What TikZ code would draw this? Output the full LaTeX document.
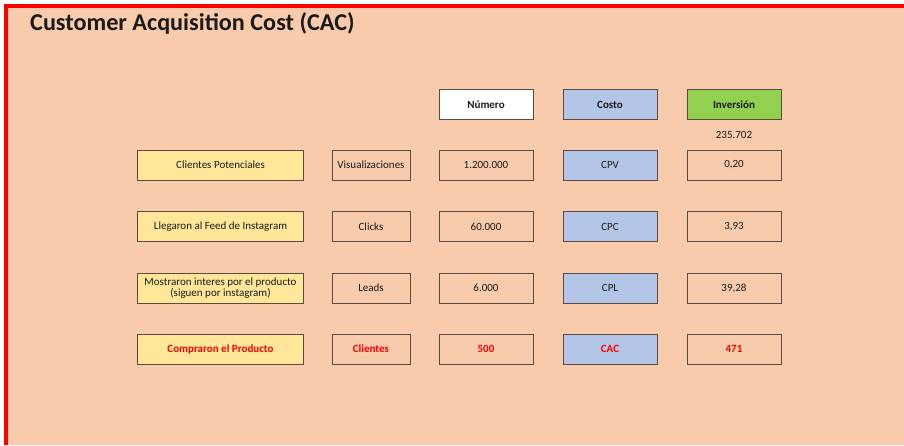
\documentclass[tikz,border=0pt]{standalone}
\usepackage{fontspec}
\setmainfont{Carlito}
\definecolor{sheet}{HTML}{F8CBAD}
\definecolor{labelfill}{HTML}{FFE699}
\definecolor{costfill}{HTML}{B4C6E7}
\definecolor{invfill}{HTML}{92D050}
\definecolor{edge}{HTML}{5A4A40}
\definecolor{ink}{HTML}{1A1A1A}
\definecolor{alert}{HTML}{FF0000}
\tikzset{
  cell/.style={draw=edge, line width=1pt, minimum height=30pt, inner sep=0pt,
    font=\fontsize{11}{12}\selectfont, text=ink, align=center},
  labelcell/.style={cell, fill=labelfill, minimum width=166pt},
  kindcell/.style={cell, minimum width=78pt},
  valcell/.style={cell, minimum width=94pt},
  costcell/.style={valcell, fill=costfill},
  headcell/.style={valcell, font=\fontsize{11}{12}\selectfont\bfseries},
  hot/.style={text=alert, font=\fontsize{11}{12}\selectfont\bfseries}
}
\begin{document}
\begin{tikzpicture}[x=1pt,y=-1pt]
  % page and sheet area
  \fill[white] (0,0) rectangle (904,445);
  \useasboundingbox (0,0) rectangle (904,445);
  \fill[sheet] (4,4) rectangle (904,445);
  \draw[alert, line width=3.5pt] (5.75,445) -- (5.75,5.75) -- (904,5.75);

  % title
  \node[anchor=base west, font=\fontsize{24.2}{27}\selectfont\bfseries, text=ink, inner sep=0pt]
    (title) at (30,30) {Customer Acquisition Cost (CAC)};

  % column x centres
  \def\xa{220.5}\def\xb{371}\def\xc{486}\def\xd{610}\def\xe{734}
  % row y centres
  \def\yh{104.5}\def\ya{165}\def\yb{226.5}\def\yc{288}\def\yd{349}

  % header row
  \node[headcell, fill=white] (hnum) at (\xc,\yh) {Número};
  \node[headcell, fill=costfill] (hcost) at (\xd,\yh) {Costo};
  \node[headcell, fill=invfill] (hinv) at (\xe,\yh) {Inversión};
  \node[font=\fontsize{11}{12}\selectfont, text=ink] (total) at (\xe,135) {235.702};

  % row 1
  \node[labelcell] (l1) at (\xa,\ya) {Clientes Potenciales};
  \node[kindcell] (k1) at (\xb,\ya) {Visualizaciones};
  \node[valcell] (n1) at (\xc,\ya) {1.200.000};
  \node[costcell] (c1) at (\xd,\ya) {CPV};
  \node[valcell] (i1) at (\xe,\ya) {0,20};

  % row 2
  \node[labelcell] (l2) at (\xa,\yb) {Llegaron al Feed de Instagram};
  \node[kindcell] (k2) at (\xb,\yb) {Clicks};
  \node[valcell] (n2) at (\xc,\yb) {60.000};
  \node[costcell] (c2) at (\xd,\yb) {CPC};
  \node[valcell] (i2) at (\xe,\yb) {3,93};

  % row 3
  \node[labelcell, font=\fontsize{11}{11.5}\selectfont] (l3) at (\xa,\yc)
    {Mostraron interes por el producto\\(siguen por instagram)};
  \node[kindcell] (k3) at (\xb,\yc) {Leads};
  \node[valcell] (n3) at (\xc,\yc) {6.000};
  \node[costcell] (c3) at (\xd,\yc) {CPL};
  \node[valcell] (i3) at (\xe,\yc) {39,28};

  % row 4
  \node[labelcell, hot] (l4) at (\xa,\yd) {Compraron el Producto};
  \node[kindcell, hot] (k4) at (\xb,\yd) {Clientes};
  \node[valcell, hot] (n4) at (\xc,\yd) {500};
  \node[costcell, hot] (c4) at (\xd,\yd) {CAC};
  \node[valcell, hot] (i4) at (\xe,\yd) {471};
\end{tikzpicture}
\end{document}
